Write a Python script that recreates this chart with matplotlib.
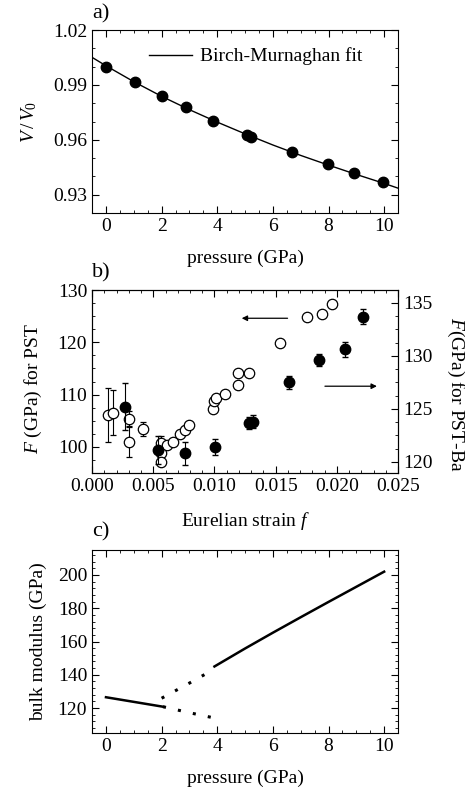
import numpy as np
import matplotlib
matplotlib.use("Agg")
import matplotlib.pyplot as plt
from matplotlib.ticker import MultipleLocator

plt.rcParams['font.family'] = ['Liberation Serif', 'DejaVu Serif']
plt.rcParams['mathtext.fontset'] = 'custom'
plt.rcParams['mathtext.rm'] = 'Liberation Serif'
plt.rcParams['mathtext.it'] = 'Liberation Serif:italic'
plt.rcParams['font.size'] = 14

# === panel a: V/V0 vs pressure ===
p_a = [0.0, 1.04, 2.0, 2.87, 3.86, 5.06, 5.2, 6.69, 7.97, 8.92, 9.95]
v_a = [1.000, 0.9918, 0.984, 0.9778, 0.9705, 0.9627, 0.9618, 0.9533, 0.9467, 0.9418, 0.9367]
p_fit = [-0.5, 0.0, 1.0, 2.0, 3.0, 4.0, 5.0, 6.0, 7.0, 8.0, 9.0, 10.0, 10.5]
v_fit = [1.0051, 1.0005, 0.9918, 0.9838, 0.9765, 0.9697, 0.9633, 0.9572, 0.9515, 0.9462, 0.9411, 0.9362, 0.9336]

# === panel b: F vs Eulerian strain ===
# open circles, PST (left axis)
f_pst = [0.00133, 0.00174, 0.00305, 0.00305, 0.00414, 0.00564, 0.00564, 0.00564, 0.0061, 0.0066,
         0.00719, 0.0076, 0.00795, 0.00986, 0.0100, 0.0101, 0.01087, 0.0119, 0.01195, 0.01285,
         0.01536, 0.01754, 0.01876, 0.01963]
F_pst = [106.1, 106.5, 105.3, 101.0, 103.4, 100.8, 98.8, 97.1, 100.3, 101.0,
         102.4, 103.2, 104.2, 107.2, 108.7, 109.3, 110.1, 111.8, 114.2, 114.1,
         119.8, 124.8, 125.4, 127.3]
err_pst = [5.2, 4.3, 1.5, 3.0, 1.4, 1.3, 0, 0, 0, 0,
           0, 0, 0, 0, 0, 0, 0, 0, 0, 0,
           0, 0, 0, 0]
# filled circles, PST-Ba (right axis)
f_ba = [0.0027, 0.00542, 0.0076, 0.01005, 0.01285, 0.01318, 0.01612, 0.01857, 0.02067, 0.02217]
F_ba = [125.2, 121.1, 120.8, 121.4, 123.65, 123.8, 127.5, 129.6, 130.6, 133.7]
err_ba = [2.2, 1.3, 1.1, 0.75, 0.6, 0.6, 0.6, 0.6, 0.7, 0.7]

# === panel c: bulk modulus vs pressure ===
p_low = [0.0, 2.05]
K_low = [126.5, 120.8]
p_low_ext = [2.05, 3.0, 3.9]
K_low_ext = [120.8, 117.2, 114.0]
p_high_ext = [2.0, 3.0, 3.85]
K_high_ext = [125.9, 135.0, 143.0]
p_high = [3.9, 5.0, 6.0, 7.0, 8.0, 9.0, 10.0]
K_high = [145.0, 155.8, 165.3, 174.6, 183.8, 192.9, 202.0]

fig = plt.figure(figsize=(4.65, 7.92), dpi=100)
left, width, height = 0.198, 0.658, 0.231
ax_a = fig.add_axes([left, 0.731, width, height])
ax_b = fig.add_axes([left, 0.4028, width, height])
ax_c = fig.add_axes([left, 0.0745, width, height])


def style(ax, right=True):
    ax.tick_params(which='both', direction='in', top=True, right=right, labelsize=14)
    ax.tick_params(which='major', length=5)
    ax.tick_params(which='minor', length=2.5)


# panel a
ax_a.plot(p_fit, v_fit, color='black', lw=1, label='Birch-Murnaghan fit')
ax_a.plot(p_a, v_a, 'o', color='black', ms=7.5)
ax_a.set_xlim(-0.5, 10.5)
ax_a.set_ylim(0.92, 1.02)
ax_a.xaxis.set_major_locator(MultipleLocator(2))
ax_a.xaxis.set_minor_locator(MultipleLocator(0.5))
ax_a.yaxis.set_minor_locator(MultipleLocator(0.01))
ax_a.set_yticks([0.93, 0.96, 0.99, 1.02])
ax_a.set_yticklabels(['0.93', '0.96', '0.99', '1.02'])
ax_a.set_xlabel('pressure (GPa)', labelpad=11)
ax_a.set_ylabel(r'$V\,/\,V_{\rm 0}$', labelpad=10)
ax_a.legend(loc='upper left', frameon=False, fontsize=14, handlelength=2.2,
            handletextpad=0.4, bbox_to_anchor=(0.13, 1.0))
style(ax_a)
fig.text(0.198, 0.983, 'a)', fontsize=16, ha='left', va='center')

# panel b
ax_b.errorbar(f_pst, F_pst, yerr=err_pst, fmt='o', mfc='white', mec='black', ms=7.5,
              ecolor='black', elinewidth=0.8, capsize=2.5, mew=0.9, zorder=3)
ax_b.set_xlim(0, 0.025)
ax_b.set_ylim(95, 130)
ax_b.xaxis.set_major_locator(MultipleLocator(0.005))
ax_b.xaxis.set_minor_locator(MultipleLocator(0.001))
ax_b.yaxis.set_major_locator(MultipleLocator(10))
ax_b.yaxis.set_minor_locator(MultipleLocator(2.5))
ax_b.xaxis.set_major_formatter(matplotlib.ticker.FormatStrFormatter('%.3f'))
ax_b.set_xlabel(r'Eurelian strain $f$', labelpad=11)
ax_b.set_ylabel(r'$F$ (GPa) for PST', labelpad=10)
ax_b.yaxis.label.set_y(0.46)
style(ax_b, right=False)
ax_b.annotate('', xy=(0.0120, 124.6), xytext=(0.0162, 124.6),
              arrowprops=dict(arrowstyle='-|>', color='black', lw=0.9, mutation_scale=8))
ax_b.annotate('', xy=(0.0235, 111.6), xytext=(0.0188, 111.6),
              arrowprops=dict(arrowstyle='-|>', color='black', lw=0.9, mutation_scale=8))

ax_b2 = ax_b.twinx()
ax_b2.errorbar(f_ba, F_ba, yerr=err_ba, fmt='o', mfc='black', mec='black', ms=7.5,
               ecolor='black', elinewidth=0.8, capsize=2.5, zorder=3)
ax_b2.set_ylim(118.95, 136.2)
ax_b2.yaxis.set_major_locator(MultipleLocator(5))
ax_b2.yaxis.set_minor_locator(MultipleLocator(1.25))
ax_b2.set_ylabel(r'$F$(GPa) for PST-Ba', rotation=270, labelpad=24)
ax_b2.yaxis.label.set_y(0.43)
ax_b2.tick_params(which='both', direction='in', labelsize=14)
ax_b2.tick_params(which='major', length=5)
ax_b2.tick_params(which='minor', length=2.5)
fig.text(0.198, 0.655, 'b)', fontsize=16, ha='left', va='center')

# panel c
ax_c.plot(p_low, K_low, color='black', lw=1.8)
ax_c.plot(p_high, K_high, color='black', lw=1.8)
ax_c.plot(p_low_ext, K_low_ext, color='black', lw=2.2, linestyle=(0, (1, 4)))
ax_c.plot(p_high_ext, K_high_ext, color='black', lw=2.2, linestyle=(0, (1, 4)))
ax_c.set_xlim(-0.5, 10.5)
ax_c.set_ylim(105, 215)
ax_c.xaxis.set_major_locator(MultipleLocator(2))
ax_c.xaxis.set_minor_locator(MultipleLocator(0.5))
ax_c.yaxis.set_minor_locator(MultipleLocator(4))
ax_c.set_yticks([120, 140, 160, 180, 200])
ax_c.set_xlabel('pressure (GPa)', labelpad=11)
ax_c.set_ylabel('bulk modulus (GPa)', labelpad=8)
style(ax_c)
fig.text(0.198, 0.328, 'c)', fontsize=16, ha='left', va='center')

fig.savefig('out.png', dpi=100)
